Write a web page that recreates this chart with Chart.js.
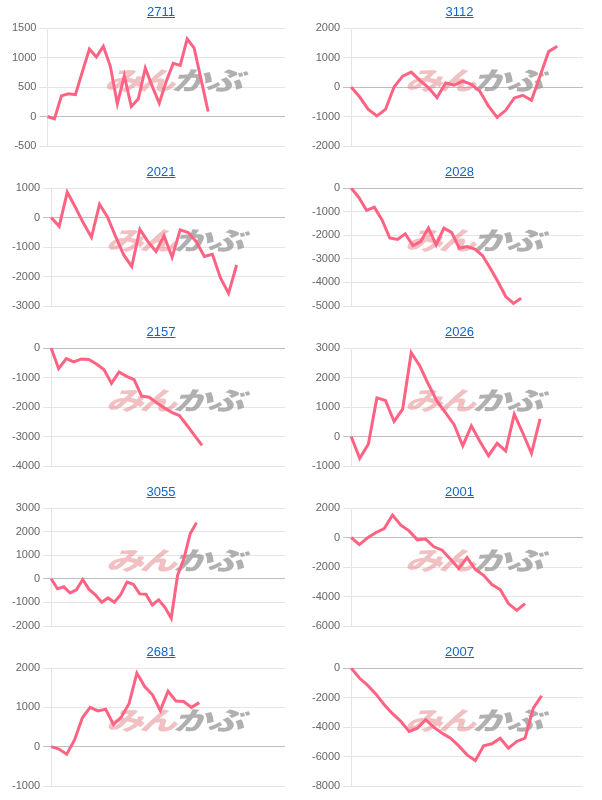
<!DOCTYPE html>
<html lang="ja">
<head>
<meta charset="utf-8"/>
<title>みんかぶ チャート</title>
<script src="https://cdn.jsdelivr.net/npm/chart.js@4/dist/chart.umd.min.js"></script>
<style>
  body { margin: 0; background: #fff; font-family: "Liberation Sans", Arial, sans-serif; }
  #wrap { position: relative; width: 602px; height: 800px; }
  .cell { position: absolute; height: 160px; }
  .cell canvas { position: absolute; left: 0; top: 0; }
  .ttl { position: absolute; top: 4px; transform: translateX(-50%); font-size: 13px; color: #1565c0; text-decoration: underline; white-space: nowrap; }
</style>
</head>
<body>
<div id="wrap"></div>
<script>
// 銘柄コード
const codes = ['2711', '3112', '2021', '2028', '2157', '2026', '3055', '2001', '2681', '2007'];

// 損益推移 (読み取り値)
const s2711 = [0, -40, 350, 385, 370, 760, 1145, 1010, 1190, 850, 215, 690, 170, 295, 820, 510, 225, 595, 900, 865, 1315, 1160, 620, 85];
const s3112 = [0, -340, -760, -980, -760, 0, 370, 505, 225, -20, -360, 135, 65, 200, 90, -150, -650, -1030, -790, -370, -280, -450, 370, 1200, 1380];
const s2021 = [0, -300, 860, 350, -190, -670, 450, 10, -650, -1270, -1660, -400, -820, -1150, -620, -1350, -420, -510, -820, -1320, -1250, -2050, -2570, -1610];
const s2028 = [0, -400, -950, -810, -1350, -2120, -2180, -1940, -2440, -2270, -1700, -2410, -1700, -1880, -2550, -2480, -2590, -2860, -3400, -3970, -4600, -4890, -4670];
const s2157 = [0, -700, -360, -470, -370, -390, -540, -730, -1200, -810, -960, -1070, -1630, -1670, -1860, -2030, -2180, -2290, -2620, -2960, -3300];
const s2026 = [0, -740, -260, 1310, 1220, 510, 930, 2840, 2390, 1770, 1200, 800, 400, -320, 360, -170, -650, -230, -490, 760, 110, -570, 600];
const s3055 = [0, -425, -340, -600, -470, -30, -450, -680, -990, -810, -990, -670, -140, -230, -640, -650, -1110, -890, -1210, -1670, 140, 850, 1910, 2380];
const s2001 = [0, -480, -20, 340, 610, 1520, 840, 450, -160, -110, -630, -860, -1470, -2100, -1360, -2170, -2560, -3190, -3530, -4480, -4940, -4480];
const s2681 = [0, -60, -190, 170, 730, 1000, 910, 950, 560, 750, 1100, 1870, 1530, 1320, 920, 1410, 1160, 1150, 1000, 1120];
const s2007 = [0, -680, -1180, -1770, -2490, -3100, -3620, -4300, -4080, -3510, -4030, -4420, -4760, -5280, -5890, -6270, -5280, -5140, -4760, -5440, -4980, -4760, -2720, -1880];

const series = [s2711, s3112, s2021, s2028, s2157, s2026, s3055, s2001, s2681, s2007];

// x軸の本数 (日付ラベルは非表示)
const labelCounts = [35, 28, 30, 31, 32, 28, 38, 29, 31, 29];

// y軸目盛
const yMin = [-500, -2000, -3000, -5000, -4000, -1000, -2000, -6000, -1000, -8000];
const yMax = [1500, 2000, 1000, 0, 0, 3000, 3000, 2000, 2000, 0];
const yStep = [500, 1000, 1000, 1000, 1000, 1000, 1000, 2000, 1000, 2000];

// 透かしロゴ
const watermark = {
  id: 'watermark',
  beforeDatasetsDraw(chart) {
    const a = chart.chartArea;
    const c = chart.ctx;
    c.save();
    c.translate((a.left + a.right) / 2 + 9, (a.top + a.bottom) / 2 - 7);
    c.transform(1.25, 0, -0.35, 0.85, 0, 0);
    c.font = '900 30px "Noto Sans CJK JP"';
    c.letterSpacing = '-3px';
    c.textBaseline = 'middle';
    const w1 = c.measureText('みん').width;
    const w2 = c.measureText('かぶ').width;
    const x0 = -(w1 + w2) / 2;
    c.fillStyle = 'rgba(225, 130, 135, 0.5)';
    c.fillText('みん', x0, 0);
    c.fillStyle = 'rgba(150, 150, 150, 0.75)';
    c.fillText('かぶ', x0 + w1, 0);
    c.restore();
  }
};

const wrap = document.getElementById('wrap');

codes.forEach((code, i) => {
  const col = i % 2;
  const row = Math.floor(i / 2);
  const w = col === 0 ? 300 : 302;

  const cell = document.createElement('div');
  cell.className = 'cell';
  cell.style.left = (col * 300) + 'px';
  cell.style.top = (row * 160) + 'px';
  cell.style.width = w + 'px';

  const cv = document.createElement('canvas');
  cv.width = w;
  cv.height = 160;
  cv.style.width = w + 'px';
  cv.style.height = '160px';
  cell.appendChild(cv);

  const t = document.createElement('a');
  t.className = 'ttl';
  t.href = '#';
  t.textContent = code;
  t.style.left = (col === 0 ? 161 : 159.5) + 'px';
  cell.appendChild(t);

  wrap.appendChild(cell);

  const labels = Array.from({ length: labelCounts[i] }, (_, k) => String(k + 1));

  new Chart(cv.getContext('2d'), {
    type: 'line',
    data: {
      labels: labels,
      datasets: [{
        data: series[i],
        borderColor: 'rgb(255, 99, 132)',
        borderWidth: 3,
        pointRadius: 0,
        fill: false,
        tension: 0
      }]
    },
    options: {
      responsive: false,
      animation: false,
      layout: { padding: { left: 9, right: col === 0 ? 15 : 19, top: 28, bottom: 14 } },
      plugins: { legend: { display: false }, tooltip: { enabled: false } },
      scales: {
        x: { display: false },
        y: {
          min: yMin[i],
          max: yMax[i],
          ticks: {
            stepSize: yStep[i],
            color: '#666',
            font: { size: 11, family: '"Liberation Sans", Arial, sans-serif' },
            callback: v => String(v)
          },
          grid: {
            color: ctx => ctx.tick && ctx.tick.value === 0 ? 'rgba(0,0,0,0.25)' : 'rgba(0,0,0,0.1)'
          },
          border: { color: 'rgba(0,0,0,0.1)' }
        }
      }
    },
    plugins: [watermark]
  });
});
</script>
</body>
</html>
